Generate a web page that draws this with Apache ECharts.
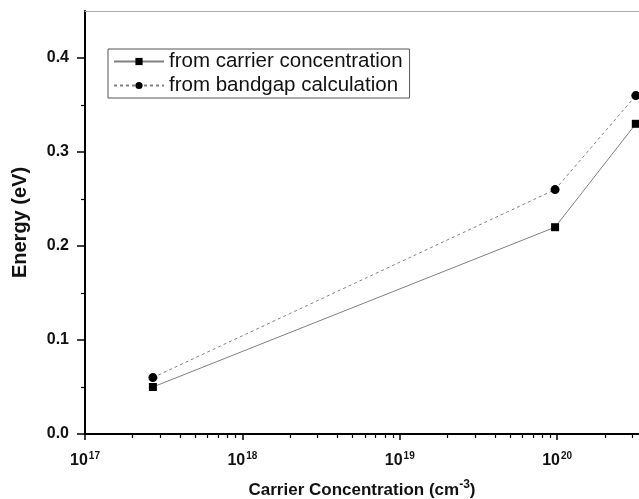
<!DOCTYPE html>
<html>
<head>
<meta charset="utf-8">
<script src="https://cdn.jsdelivr.net/npm/echarts@6/dist/echarts.min.js"></script>
<style>html,body{margin:0;padding:0;background:#fff}#c{width:639px;height:499px}</style>
</head>
<body>
<div id="c"></div>
<script>
const seriesNames = ['from carrier concentration', 'from bandgap calculation'];
const concentration = [2.7e17, 9.7e19, 3.16e20];
const energyCarrier = [0.05, 0.22, 0.33];
const energyBandgap = [0.06, 0.26, 0.36];
const decades = [17, 18, 19, 20];
const mantissas = [2, 3, 4, 5, 6, 7, 8, 9];
const yTicks = [0, 0.1, 0.2, 0.3, 0.4];

const xMinLog = 17, xMaxLog = 20.52;
const minorLog = [];
decades.forEach(d => mantissas.forEach(m => {
  const v = d + Math.log10(m);
  if (v < xMaxLog) minorLog.push(v);
}));

const chart = echarts.init(document.getElementById('c'));
const font = 'Arial, "Liberation Sans", sans-serif';
chart.setOption({
  animation: false,
  backgroundColor: '#fff',
  grid: { left: 85, right: 0, top: 11, bottom: 65, containLabel: false, outerBoundsMode: 'none' },
  legend: {
    left: 108, top: 49, orient: 'vertical',
    borderColor: '#555', borderWidth: 1, padding: [2, 7, 2, 5],
    itemWidth: 50, itemHeight: 9, itemGap: 3,
    textStyle: { fontFamily: font, fontSize: 20.5, color: '#111' },
    data: seriesNames
  },
  xAxis: [{
    type: 'value', min: xMinLog, max: xMaxLog,
    axisLine: { lineStyle: { color: '#000', width: 2 } },
    axisTick: { show: true, inside: false, length: 6, customValues: decades, lineStyle: { color: '#000', width: 1.5 } },
    splitLine: { show: false },
    axisLabel: {
      margin: 17, customValues: decades,
      formatter: function (v) { return '{b|10}{s|' + Math.round(v) + '}'; },
      rich: {
        b: { fontFamily: font, fontSize: 16, fontWeight: 'bold', color: '#111' },
        s: { fontFamily: font, fontSize: 10, fontWeight: 'bold', color: '#111', verticalAlign: 'top', padding: [0, 0, 9, 1] }
      }
    },
    name: '{t|Carrier Concentration (cm}{s|-3}{t|)}',
    nameLocation: 'middle', nameGap: 45,
    nameTextStyle: {
      rich: {
        t: { fontFamily: font, fontSize: 17, fontWeight: 'bold', color: '#111' },
        s: { fontFamily: font, fontSize: 12, fontWeight: 'bold', color: '#111', padding: [0, 0, 11, 0] }
      }
    }
  }, {
    type: 'value', position: 'top', min: 0, max: 1,
    axisLine: { show: true, lineStyle: { color: '#aaa', width: 1 } },
    axisTick: { show: false }, axisLabel: { show: false }, splitLine: { show: false }
  }],
  yAxis: {
    type: 'value', min: 0, max: 0.45, interval: 0.1,
    axisLine: { show: true, lineStyle: { color: '#000', width: 2 } },
    axisTick: { show: true, length: 8, customValues: yTicks, lineStyle: { color: '#000', width: 1.5 } },
    minorTick: { show: true, splitNumber: 2, length: 4, lineStyle: { color: '#000', width: 1.2 } },
    splitLine: { show: false },
    axisLabel: {
      margin: 16, customValues: yTicks,
      fontFamily: font, fontSize: 16, fontWeight: 'bold', color: '#111',
      formatter: function (v) { return v.toFixed(1); }
    },
    name: 'Energy (eV)', nameLocation: 'middle', nameGap: 55,
    nameTextStyle: { fontFamily: font, fontSize: 20, fontWeight: 'bold', color: '#111' }
  },
  series: [{
    name: seriesNames[0], type: 'line', xAxisIndex: 0,
    data: concentration.map((c, i) => [Math.log10(c), energyCarrier[i]]),
    symbol: 'rect', symbolSize: 8,
    itemStyle: { color: '#000' },
    lineStyle: { color: '#808080', width: 1, type: 'solid' }
  }, {
    name: seriesNames[1], type: 'line', xAxisIndex: 0,
    data: concentration.map((c, i) => [Math.log10(c), energyBandgap[i]]),
    symbol: 'circle', symbolSize: 9,
    itemStyle: { color: '#000' },
    lineStyle: { color: '#808080', width: 1, type: [3, 3] }
  }, {
    name: 'minorTicks', type: 'custom', xAxisIndex: 0, clip: false, silent: true, z: 10,
    data: minorLog.map(v => [v, 0]),
    renderItem: function (params, api) {
      const p = api.coord([api.value(0), 0]);
      return {
        type: 'line',
        shape: { x1: Math.round(p[0]) + 0.5, y1: p[1] + 1, x2: Math.round(p[0]) + 0.5, y2: p[1] + 4 },
        style: { stroke: '#000', lineWidth: 1.2 }
      };
    }
  }]
});
</script>
</body>
</html>
